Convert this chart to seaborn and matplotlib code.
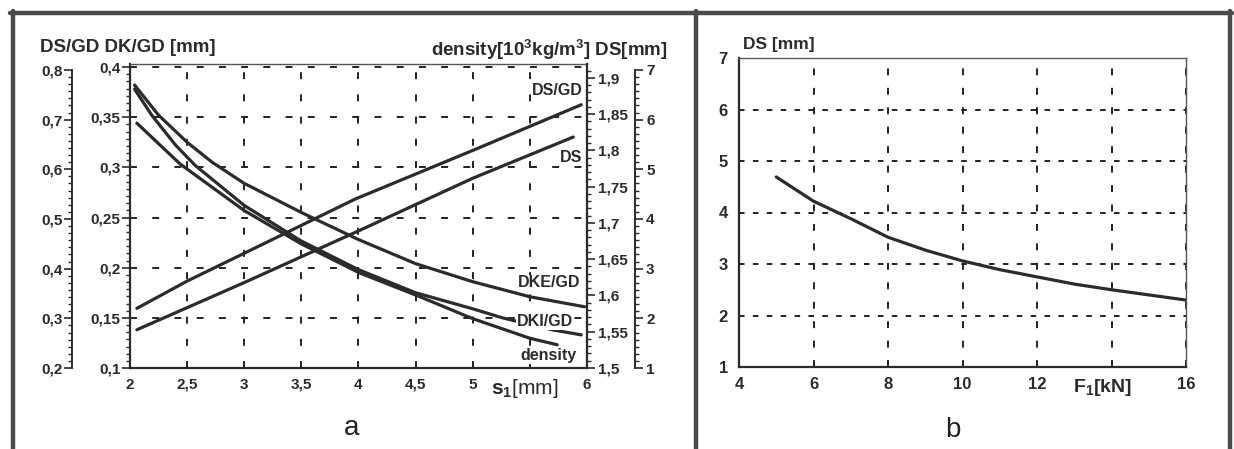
import numpy as np
import pandas as pd
import matplotlib
matplotlib.use("Agg")
import matplotlib.pyplot as plt
import seaborn as sns
from matplotlib.ticker import FuncFormatter, AutoMinorLocator
from matplotlib.lines import Line2D

# panel a data
s_dsgd = [2.06, 2.5, 3.0, 3.97, 5.0, 5.95]
dsgd = [0.32, 0.375, 0.431, 0.54, 0.638, 0.73]          # outer left axis 0,2-0,8

s_ds = [2.06, 3.0, 4.01, 5.0, 5.88]
ds = [1.77, 2.72, 3.77, 4.82, 5.65]                      # DS [mm], far right axis

s_dke = [2.04, 2.25, 2.5, 2.72, 3.0, 3.5, 4.0, 4.5, 5.0, 5.5, 5.98]
dke = [0.382, 0.352, 0.325, 0.305, 0.284, 0.255, 0.228, 0.204, 0.186, 0.171, 0.161]

s_dki = [2.04, 2.19, 2.4, 2.57, 3.0, 3.5, 4.0, 4.5, 5.0, 5.26, 5.7, 5.95]
dki = [0.378, 0.352, 0.322, 0.302, 0.262, 0.2265, 0.198, 0.175, 0.159, 0.150, 0.138, 0.133]

s_den = [2.06, 2.44, 3.0, 3.5, 4.01, 4.51, 5.0, 5.5, 5.74]
den = [1.8375, 1.781, 1.717, 1.671, 1.631, 1.600, 1.568, 1.541, 1.532]

# panel b data
f1 = [5, 6, 7, 8, 9, 10, 11, 12, 13, 14, 15, 16]
ds_b = [4.69, 4.22, 3.88, 3.52, 3.27, 3.06, 2.89, 2.75, 2.61, 2.50, 2.40, 2.30]

a_xticks = [2, 2.5, 3, 3.5, 4, 4.5, 5, 5.5, 6]
a_xlabels = ["2", "2,5", "3", "3,5", "4", "4,5", "5", "", "6"]
b_xticks = [4, 6, 8, 10, 12, 14, 16]
b_xlabels = ["4", "6", "8", "10", "12", "", "16"]

sns.set_style("white")
plt.rcParams['font.family'] = ['Liberation Sans', 'DejaVu Sans']
plt.rcParams['font.weight'] = 'bold'
plt.rcParams['mathtext.fontset'] = 'custom'
plt.rcParams['mathtext.rm'] = 'Liberation Sans'
plt.rcParams['mathtext.bf'] = 'Liberation Sans:bold'
plt.rcParams['lines.scale_dashes'] = False

ink = '#2b2b2b'
comma = FuncFormatter(lambda v, p: f"{v:g}".replace('.', ','))

fig = plt.figure(figsize=(12.34, 4.49), dpi=100)

# ---------------- panel a ----------------
ax = fig.add_axes([130/1234, 81/449, 457/1234, 304/449])
ax.set_xlim(2, 6)
ax.set_ylim(0.1, 0.403)
ax.set_xticks(a_xticks)
ax.set_xticklabels(a_xlabels)
ax.set_yticks([0.1, 0.15, 0.2, 0.25, 0.3, 0.35, 0.4])
ax.yaxis.set_major_formatter(comma)
ax.xaxis.set_minor_locator(AutoMinorLocator(8))
ax.yaxis.set_minor_locator(AutoMinorLocator(7))
ax.tick_params(axis='x', direction='inout', length=8, width=1.2, colors=ink, labelsize=11, pad=3)
ax.tick_params(axis='x', which='minor', direction='inout', length=5, width=1.0, colors=ink)
ax.tick_params(axis='y', direction='out', length=6, width=1.2, colors=ink, labelsize=11, pad=1)
ax.tick_params(axis='y', which='minor', direction='out', length=3, width=1.0, colors=ink)
for sp in ['left', 'bottom']:
    ax.spines[sp].set_color(ink)
    ax.spines[sp].set_linewidth(1.6)
ax.spines['top'].set_color('#555555')
ax.spines['top'].set_linewidth(1.0)
ax.spines['right'].set_visible(False)
ax.grid(True, which='major', color='#222222', linewidth=1.4, linestyle=(0, (5, 11)))

ax_out = ax.twinx()
ax_out.yaxis.set_ticks_position('left')
ax_out.spines['left'].set_position(('axes', -58/457))
ax_out.spines['left'].set_visible(True)
ax_out.spines['left'].set_bounds(0.2, 0.8)
ax_out.spines['left'].set_color(ink)
ax_out.spines['left'].set_linewidth(1.4)
for sp in ['right', 'top', 'bottom']:
    ax_out.spines[sp].set_visible(False)
ax_out.set_ylim(0.2, 0.812)
ax_out.set_yticks([0.2, 0.3, 0.4, 0.5, 0.6, 0.7, 0.8])
ax_out.yaxis.set_major_formatter(comma)
ax_out.yaxis.set_minor_locator(AutoMinorLocator(7))
ax_out.tick_params(axis='y', direction='out', length=6, width=1.2, colors=ink, labelsize=11, pad=1)
ax_out.tick_params(axis='y', which='minor', direction='out', length=3, width=1.0, colors=ink)

ax_den = ax.twinx()
for sp in ['left', 'top', 'bottom']:
    ax_den.spines[sp].set_visible(False)
ax_den.spines['right'].set_color(ink)
ax_den.spines['right'].set_linewidth(1.6)
ax_den.set_ylim(1.5, 1.919)
ax_den.set_yticks([1.5, 1.55, 1.6, 1.65, 1.7, 1.75, 1.8, 1.85, 1.9])
ax_den.yaxis.set_major_formatter(comma)
ax_den.yaxis.set_minor_locator(AutoMinorLocator(5))
ax_den.tick_params(axis='y', direction='out', length=6, width=1.2, colors=ink, labelsize=11, pad=2)
ax_den.tick_params(axis='y', which='minor', direction='out', length=3, width=1.0, colors=ink)

ax_ds = ax.twinx()
for sp in ['left', 'top', 'bottom']:
    ax_ds.spines[sp].set_visible(False)
ax_ds.spines['right'].set_position(('axes', 1 + 48/457))
ax_ds.spines['right'].set_bounds(1, 7)
ax_ds.spines['right'].set_color(ink)
ax_ds.spines['right'].set_linewidth(1.4)
ax_ds.set_ylim(1, 7.12)
ax_ds.set_yticks([1, 2, 3, 4, 5, 6, 7])
ax_ds.yaxis.set_minor_locator(AutoMinorLocator(7))
ax_ds.tick_params(axis='y', direction='out', length=6, width=1.2, colors=ink, labelsize=11, pad=2)
ax_ds.tick_params(axis='y', which='minor', direction='out', length=3, width=1.0, colors=ink)

lw = 2.3
sns.lineplot(x=s_dsgd, y=dsgd, ax=ax_out, color=ink, linewidth=lw)
sns.lineplot(x=s_ds, y=ds, ax=ax_ds, color=ink, linewidth=lw)
sns.lineplot(x=s_dke, y=dke, ax=ax, color=ink, linewidth=lw)
sns.lineplot(x=s_dki, y=dki, ax=ax, color=ink, linewidth=lw)
sns.lineplot(x=s_den, y=den, ax=ax_den, color=ink, linewidth=lw)
for a in (ax, ax_out, ax_den, ax_ds):
    a.set_xlabel('')
    a.set_ylabel('')
ax.set_xlim(2, 6)

box = dict(facecolor='white', edgecolor='none', pad=0.5)
curve_labels = [("DS/GD", 5.965, 0.377), ("DS", 5.96, 0.310), ("DKE/GD", 5.94, 0.185),
                ("DKI/GD", 5.88, 0.146), ("density", 5.91, 0.112)]
for txt, xx, yy in curve_labels:
    fig.text(xx, yy, txt, transform=ax.transData, ha='right', va='center',
             fontsize=11.5, color=ink, bbox=box, zorder=20)

fig.text(5.16, 0.080, r"$\mathbf{s_1}$[mm]", transform=ax.transData, ha='left', va='center',
         fontsize=15, fontweight='normal', color=ink)

fig.text(40/1234, 1 - 48/449, "DS/GD DK/GD [mm]", ha='left', va='center', fontsize=13.5, color=ink)
fig.text(668/1234, 1 - 50/449, r"density[10$\mathbf{^3}$kg/m$\mathbf{^3}$] DS[mm]", ha='right',
         va='center', fontsize=13.5, color=ink)
fig.text(352/1234, 1 - 428/449, "a", ha='center', va='center', fontsize=20, fontweight='normal', color='#222222')

# ---------------- panel b ----------------
bx = fig.add_axes([739/1234, 82/449, 447/1234, 309/449])
sns.lineplot(x=f1, y=ds_b, ax=bx, color=ink, linewidth=lw)
bx.set_xlabel('')
bx.set_ylabel('')
bx.set_xlim(4, 16)
bx.set_ylim(1, 7)
bx.set_xticks(b_xticks)
bx.set_xticklabels(b_xlabels)
bx.set_yticks([1, 2, 3, 4, 5, 6, 7])
bx.xaxis.set_minor_locator(AutoMinorLocator(5))
bx.yaxis.set_minor_locator(AutoMinorLocator(5))
bx.tick_params(axis='x', direction='inout', length=8, width=1.2, colors=ink, labelsize=12, pad=3)
bx.tick_params(axis='x', which='minor', direction='inout', length=5, width=1.0, colors=ink)
bx.tick_params(axis='y', direction='out', length=6, width=1.2, colors=ink, labelsize=12, pad=2)
bx.tick_params(axis='y', which='minor', direction='out', length=3, width=1.0, colors=ink)
for sp in ['left', 'bottom']:
    bx.spines[sp].set_color(ink)
    bx.spines[sp].set_linewidth(1.6)
for sp in ['top', 'right']:
    bx.spines[sp].set_color('#555555')
    bx.spines[sp].set_linewidth(1.0)
bx.xaxis.grid(True, color='#222222', linewidth=1.4, linestyle=(0, (5, 9)))
bx.yaxis.grid(True, color='#222222', linewidth=1.4, linestyle=(0, (4, 6)))
bx.text(12.97, 0.61, r"$\mathbf{F_1}$[kN]", ha='left', va='center', fontsize=14,
        fontweight='bold', color=ink, clip_on=False)
fig.text(743/1234, 1 - 44/449, "DS [mm]", ha='left', va='center', fontsize=12.5, color=ink)
fig.text(953/1234, 1 - 430/449, "b", ha='center', va='center', fontsize=20, fontweight='normal', color='#222222')

# frame lines round the two panels
frame = '#4a4a4a'
fig.add_artist(Line2D([10/1234, 1232/1234], [1 - 13/449] * 2, transform=fig.transFigure, color=frame, linewidth=3.2))
for xp in (12.5, 696, 1230):
    fig.add_artist(Line2D([xp/1234] * 2, [0, 1 - 11/449], transform=fig.transFigure, color=frame, linewidth=3.2))

fig.savefig("out.png", dpi=100)
